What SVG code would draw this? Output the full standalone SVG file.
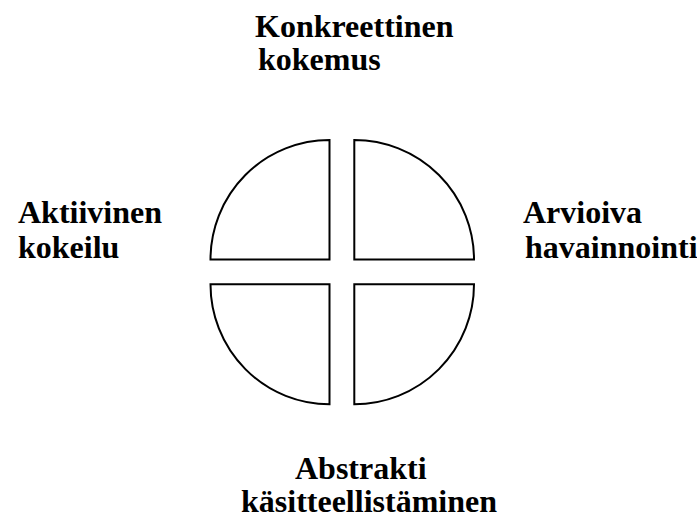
<svg xmlns="http://www.w3.org/2000/svg" width="697" height="517" viewBox="0 0 697 517">
<style>
.q{fill:#fff;stroke:#000;stroke-width:2}
</style>
<rect width="697" height="517" fill="#fff"/>
<g id="quarter-top-left"><path class="q" d="M329.5 140 V259.5 H210.5 A119 119.5 0 0 1 329.5 140 Z"/></g>
<g id="quarter-top-right"><path class="q" d="M354.3 140 V259.5 H474 A119.7 119.5 0 0 0 354.3 140 Z"/></g>
<g id="quarter-bottom-left"><path class="q" d="M329.5 404.3 V284.3 H210.5 A119 120 0 0 0 329.5 404.3 Z"/></g>
<g id="quarter-bottom-right"><path class="q" d="M354.3 404.3 V284.3 H474 A119.7 120 0 0 1 354.3 404.3 Z"/></g>
<g font-family="Liberation Serif, Times New Roman, serif" font-weight="bold" font-size="32" fill="#000">
<g id="label-top"><text x="255" y="37">Konkreettinen</text><text x="258" y="70">kokemus</text></g>
<g id="label-left"><text x="18" y="223">Aktiivinen</text><text x="18" y="258">kokeilu</text></g>
<g id="label-right"><text x="523" y="223">Arvioiva</text><text x="525" y="258">havainnointi</text></g>
<g id="label-bottom"><text x="295" y="479">Abstrakti</text><text x="241" y="512">käsitteellistäminen</text></g>
</g>
<g id="connectors"></g>
</svg>
